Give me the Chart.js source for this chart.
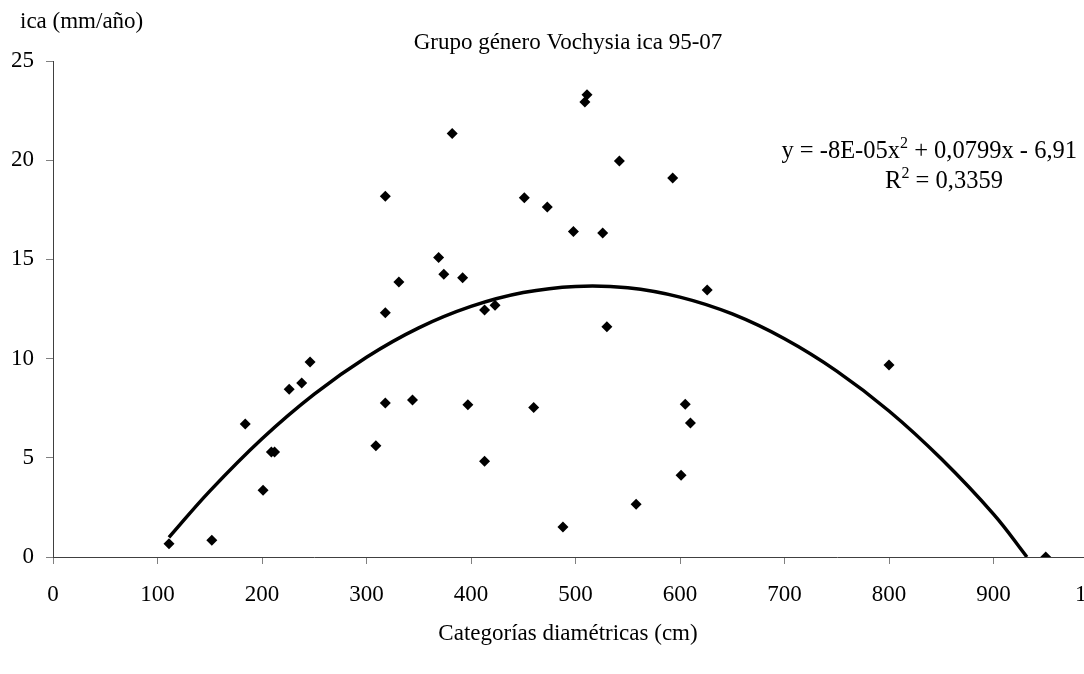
<!DOCTYPE html>
<html><head><meta charset="utf-8">
<script src="https://cdn.jsdelivr.net/npm/chart.js@4.4.1/dist/chart.umd.min.js"></script>
<style>html,body{margin:0;padding:0;overflow:hidden;background:#fff}</style>
</head><body>
<canvas id="c" width="1200" height="674"></canvas>
<script>
// Observed points (diameter class cm, ica mm/año)
const diam = [111, 152, 184, 201, 209, 212, 226, 238, 246, 309, 318, 318, 318, 331, 344, 369, 374, 382, 392, 397, 413, 413, 423, 451, 460, 473, 488, 498, 509, 511, 526, 530, 542, 558, 593, 601, 605, 610, 626, 800, 950];
const ica  = [0.67, 0.84, 6.70, 3.36, 5.29, 5.29, 8.45, 8.77, 9.83, 5.61, 18.18, 12.31, 7.76, 13.86, 7.91, 15.09, 14.25, 21.34, 14.08, 7.68, 12.45, 4.82, 12.69, 18.11, 7.53, 17.64, 1.51, 16.40, 22.93, 23.30, 16.33, 11.61, 19.96, 2.66, 19.10, 4.12, 7.70, 6.75, 13.46, 9.68, 0.0];
// Trend line
const trendX = [111, 150, 200, 250, 300, 350, 400, 450, 500, 550, 600, 650, 700, 750, 800, 850, 900, 932];
const trendY = [0.99, 3.32, 5.96, 8.21, 10.07, 11.55, 12.63, 13.33, 13.64, 13.57, 13.10, 12.25, 11.00, 9.37, 7.36, 4.95, 2.16, 0];
const chartTitle = 'Grupo género Vochysia ica 95-07';
const yTitle = 'ica (mm/año)';
const xTitle = 'Categorías diamétricas (cm)';
const eqParts = ['y = -8E-05x', '2', ' + 0,0799x - 6,91'];
const r2Parts = ['R', '2', ' = 0,3359'];

const FONT = '"Liberation Serif", "Times New Roman", serif';

const textPlugin = {
  id: 'texts',
  afterDraw(chart) {
    const ctx = chart.ctx;
    ctx.save();
    ctx.fillStyle = '#000';
    ctx.textBaseline = 'alphabetic';
    ctx.font = '23px ' + FONT;
    ctx.textAlign = 'center';
    ctx.fillText(chartTitle, 568, 49);
    ctx.fillText(xTitle, 568, 640);
    ctx.textAlign = 'left';
    ctx.fillText(yTitle, 20, 28);

    function supLine(parts, xAnchor, baseline, align) {
      ctx.font = '24.5px ' + FONT;
      const w0 = ctx.measureText(parts[0]).width;
      const w2 = ctx.measureText(parts[2]).width;
      ctx.font = '16px ' + FONT;
      const w1 = ctx.measureText(parts[1]).width;
      const total = w0 + w1 + w2;
      let x = align === 'right' ? xAnchor - total : xAnchor - total / 2;
      ctx.textAlign = 'left';
      ctx.font = '24.5px ' + FONT;
      ctx.fillText(parts[0], x, baseline);
      x += w0;
      ctx.font = '16px ' + FONT;
      ctx.fillText(parts[1], x, baseline - 10);
      x += w1;
      ctx.font = '24.5px ' + FONT;
      ctx.fillText(parts[2], x, baseline);
    }
    supLine(eqParts, 1077, 158, 'right');
    supLine(r2Parts, 944, 188, 'center');
    ctx.restore();
  }
};

const tickFont = { family: FONT, size: 23 };

new Chart(document.getElementById('c'), {
  data: {
    datasets: [
      {
        type: 'line',
        data: trendX.map((x, i) => ({ x: x, y: trendY[i] })),
        borderColor: '#000',
        borderWidth: 3.5,
        pointRadius: 0,
        fill: false,
        tension: 0.4,
        order: 2
      },
      {
        type: 'scatter',
        data: diam.map((x, i) => ({ x: x, y: ica[i] })),
        pointStyle: 'rectRot',
        pointRadius: 5.5,
        backgroundColor: '#000',
        borderColor: '#000',
        borderWidth: 0,
        order: 1
      }
    ]
  },
  options: {
    responsive: false,
    animation: false,
    devicePixelRatio: 1,
    layout: { padding: { top: 61, right: 102, left: 0, bottom: 0 } },
    plugins: { legend: { display: false }, tooltip: { enabled: false }, title: { display: false } },
    scales: {
      x: {
        type: 'linear',
        min: 0, max: 1000,
        ticks: { stepSize: 100, color: '#000', font: tickFont, padding: 17, maxRotation: 0, autoSkip: false,
                 callback: v => String(v) },
        grid: { display: true, drawOnChartArea: false, drawTicks: true, tickLength: 7, color: '#808080' },
        border: { display: true, color: '#404040', width: 1 },
        afterFit(s) { s.height = 117; }
      },
      y: {
        type: 'linear',
        min: 0, max: 25,
        ticks: { stepSize: 5, color: '#000', font: tickFont, padding: 12 },
        grid: { display: true, drawOnChartArea: false, drawTicks: true, tickLength: 7, color: '#808080' },
        border: { display: true, color: '#404040', width: 1 },
        afterFit(s) { s.width = 53; }
      }
    }
  },
  plugins: [textPlugin]
});
</script></body></html>
